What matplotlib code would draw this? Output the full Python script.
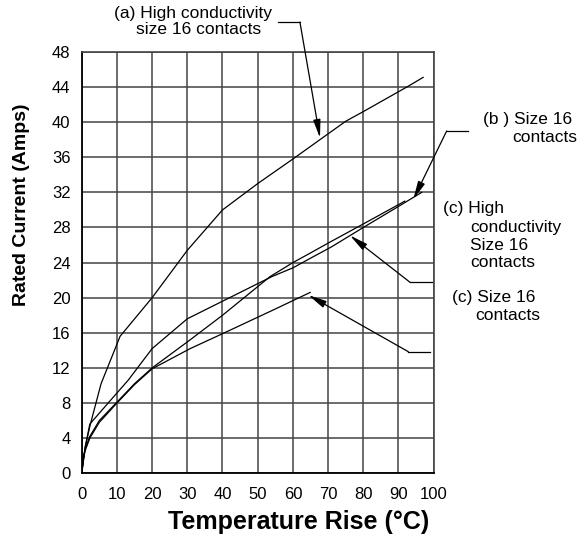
import matplotlib
matplotlib.use("Agg")
import matplotlib.pyplot as plt

plt.rcParams["font.family"] = ["Liberation Sans", "DejaVu Sans"]

# --- data ---
x_ticks = [0, 10, 20, 30, 40, 50, 60, 70, 80, 90, 100]
y_ticks = [0, 4, 8, 12, 16, 20, 24, 28, 32, 36, 40, 44, 48]

# (a) High conductivity size 16 contacts
temp_a = [0, 1, 2.4, 5.5, 10.9, 20, 30, 40, 50, 60, 75, 80, 92.8, 97]
amps_a = [0, 3, 5.5, 10.2, 15.6, 20, 25.4, 30, 33, 35.8, 40.1, 41.2, 44.1, 45.1]

# (b) Size 16 contacts
temp_b = [0, 1, 2.3, 7.5, 13.2, 20, 30, 35, 40, 50, 54, 60, 65, 71, 80, 90, 96.6]
amps_b = [0, 3, 5.6, 8.0, 10.6, 14.2, 17.6, 18.6, 19.6, 21.6, 22.4, 23.4, 24.5, 25.8, 28.0, 30.4, 32.0]

# (c) High conductivity Size 16 contacts
temp_ch = [0, 0.5, 1, 2.3, 5, 10, 15, 20, 30.8, 40, 53.5, 60, 65, 70.6, 80, 91.8]
amps_ch = [0, 1.9, 2.8, 4.2, 6.0, 8.1, 10.2, 12.0, 15.2, 18.0, 22.4, 24.0, 25.1, 26.35, 28.4, 31.0]

# (c) Size 16 contacts
temp_c = [0, 0.5, 1, 2.3, 5, 10, 15, 20, 30.8, 40, 54.4, 64.9]
amps_c = [0, 1.7, 2.6, 4.0, 5.8, 8.0, 10.1, 11.9, 14.2, 15.9, 18.6, 20.6]

fig = plt.figure(figsize=(5.87, 5.38), dpi=100)
ax = fig.add_axes([0.1392, 0.1203, 0.5996, 0.7832])

for xs, ys in [(temp_a, amps_a), (temp_b, amps_b), (temp_ch, amps_ch), (temp_c, amps_c)]:
    ax.plot(xs, ys, color="black", lw=0.9, zorder=3)

ax.set_xlim(0, 100)
ax.set_ylim(0, 48)
ax.set_xticks(x_ticks)
ax.set_yticks(y_ticks)
ax.grid(True, color="#444444", lw=1.1)
ax.set_axisbelow(True)
ax.tick_params(length=0, labelsize=12)
ax.tick_params(axis="x", pad=10)
ax.tick_params(axis="y", pad=8)
for side in ["top", "right"]:
    ax.spines[side].set_color("#444444")
    ax.spines[side].set_linewidth(1.2)
for side in ["left", "bottom"]:
    ax.spines[side].set_color("black")
    ax.spines[side].set_linewidth(1.3)

fig.text(299 / 587, 1 - 522 / 538, "Temperature Rise (°C)", ha="center", va="center",
         fontsize=18, fontweight="bold")
fig.text(22 / 587, 1 - 205 / 538, "Rated Current (Amps)", ha="center", va="center",
         rotation=90, fontsize=14, fontweight="bold")

# --- annotations ---
arrow = dict(arrowstyle="-|>,head_length=1.1,head_width=0.22", color="black", lw=0.9,
             mutation_scale=10, shrinkA=0, shrinkB=0)
fs = 12.5

# (a)
ax.plot([55.8, 62.0], [51.4, 51.4], color="black", lw=0.9, clip_on=False)
ax.annotate("", xy=(67.7, 38.2), xytext=(62.0, 51.4), arrowprops=arrow, annotation_clip=False)
ax.text(31.6, 52.4, "(a) High conductivity", ha="center", va="center", fontsize=fs, clip_on=False)
ax.text(33.3, 50.55, "size 16 contacts", ha="center", va="center", fontsize=fs, clip_on=False)

# (b)
ax.plot([103.7, 109.8], [39.0, 39.0], color="black", lw=0.9, clip_on=False)
ax.annotate("", xy=(94.2, 31.2), xytext=(103.7, 39.0), arrowprops=arrow, annotation_clip=False)
ax.text(114.1, 40.35, "(b ) Size 16", ha="left", va="center", fontsize=fs, clip_on=False)
ax.text(122.2, 38.25, "contacts", ha="left", va="center", fontsize=fs, clip_on=False)

# (c) high conductivity
ax.plot([93.3, 99.4], [21.75, 21.75], color="black", lw=0.9)
ax.annotate("", xy=(76.2, 27.1), xytext=(93.3, 21.75), arrowprops=arrow)
ax.text(102.6, 30.2, "(c) High", ha="left", va="center", fontsize=fs, clip_on=False)
ax.text(110.3, 28.0, "conductivity", ha="left", va="center", fontsize=fs, clip_on=False)
ax.text(110.3, 26.0, "Size 16", ha="left", va="center", fontsize=fs, clip_on=False)
ax.text(110.3, 24.0, "contacts", ha="left", va="center", fontsize=fs, clip_on=False)

# (c) size 16
ax.plot([92.8, 99.0], [13.85, 13.85], color="black", lw=0.9)
ax.annotate("", xy=(64.4, 20.3), xytext=(92.8, 13.85), arrowprops=arrow)
ax.text(105.2, 20.0, "(c) Size 16", ha="left", va="center", fontsize=fs, clip_on=False)
ax.text(111.7, 18.0, "contacts", ha="left", va="center", fontsize=fs, clip_on=False)

fig.savefig("out.png", dpi=100)
